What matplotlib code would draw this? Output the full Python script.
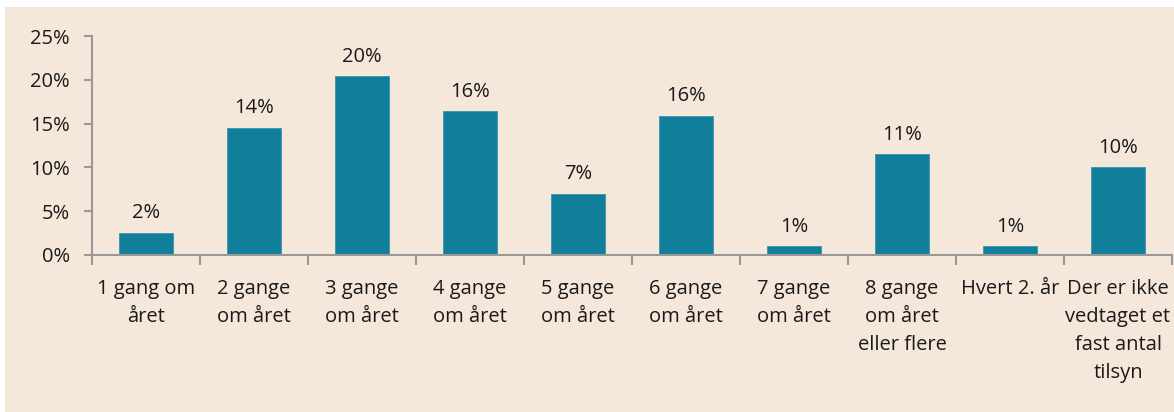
import matplotlib

matplotlib.use("Agg")
import matplotlib.pyplot as plt
import numpy as np
from matplotlib.patches import Rectangle
from matplotlib.ticker import FuncFormatter

plt.rcParams["font.family"] = ["Open Sans", "DejaVu Sans"]

categories = [
    "1 gang om\nåret",
    "2 gange\nom året",
    "3 gange\nom året",
    "4 gange\nom året",
    "5 gange\nom året",
    "6 gange\nom året",
    "7 gange\nom året",
    "8 gange\nom året\neller flere",
    "Hvert 2. år",
    "Der er ikke\nvedtaget et\nfast antal\ntilsyn",
]
values = [2.5, 14.5, 20.4, 16.4, 7.0, 15.9, 1.0, 11.5, 1.0, 10.0]
value_labels = ["2%", "14%", "20%", "16%", "7%", "16%", "1%", "11%", "1%", "10%"]

BG = "#f5e8da"
BAR = "#117e9b"
AXIS = "#999999"
TXT = "#1a1a1a"
FS = 14.5

fig = plt.figure(figsize=(11.74, 4.12), dpi=100)
fig.patch.set_facecolor("white")
fig.patches.append(Rectangle((5 / 1174, 0), 1 - 5 / 1174, 1 - 7 / 412,
                             transform=fig.transFigure, facecolor=BG,
                             edgecolor="none", zorder=-10))

ax = fig.add_axes([92 / 1174, 157 / 412, 1080 / 1174, 219 / 412])
ax.set_facecolor("none")

x = np.arange(len(categories))
ax.bar(x, values, width=0.5, color=BAR, edgecolor="#3a93ab", linewidth=0.6, zorder=2)
for xi, v, lab in zip(x, values, value_labels):
    ax.annotate(lab, (xi, v), xytext=(0, 7), textcoords="offset points",
                ha="center", va="bottom", fontsize=FS, color=TXT)

ax.set_xlim(-0.5, len(categories) - 0.5)
ax.set_ylim(0, 25)
ax.set_yticks(np.arange(0, 26, 5))
ax.yaxis.set_major_formatter(FuncFormatter(lambda v, _: f"{v:.0f}%"))

ax.set_xticks(x)
ax.set_xticklabels(categories, fontsize=FS, color=TXT, linespacing=1.54, va="top")
ax.set_xticks(np.arange(-0.5, len(categories), 1), minor=True)
ax.tick_params(axis="x", which="major", length=0, pad=17)
ax.tick_params(axis="x", which="minor", length=7, width=1.5, color=AXIS, direction="out")
ax.tick_params(axis="y", length=6, width=1.5, color=AXIS, labelsize=FS,
               labelcolor=TXT, pad=10)

for side in ("top", "right"):
    ax.spines[side].set_visible(False)
for side in ("left", "bottom"):
    ax.spines[side].set_color(AXIS)
    ax.spines[side].set_linewidth(1.5)

fig.savefig("out.png", dpi=100, facecolor=fig.get_facecolor())
plt.close(fig)
